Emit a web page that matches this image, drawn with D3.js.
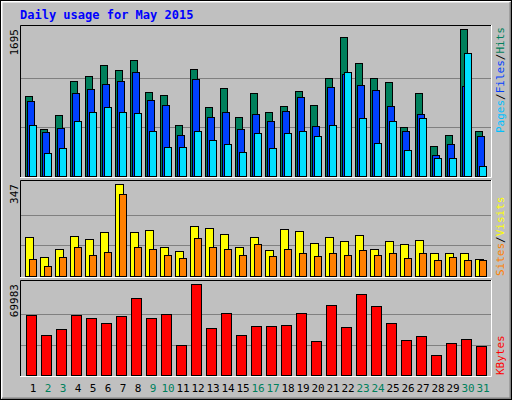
<!DOCTYPE html>
<html><head><meta charset="utf-8">
<script src="https://cdn.jsdelivr.net/npm/d3@7"></script>
<style>body{margin:0;background:#fff}text{font-family:"DejaVu Sans Mono",monospace}</style>
</head><body><svg id="c" width="512" height="400"></svg>
<script>
const days = d3.range(1, 32)
const weekend = [2, 3, 9, 10, 16, 17, 23, 24, 30, 31]
const hits = [921,539,701,1094,1152,1279,1221,1337,967,932,586,1233,794,1013,678,955,736,805,978,817,1129,1602,1302,1129,1082,562,955,343,470,1695,516]
const files = [863,505,551,955,1002,1059,1094,1198,874,817,470,1117,678,736,539,713,632,747,909,574,1025,1175,1048,990,805,516,713,239,366,1036,458]
const pages = [586,262,320,632,736,794,736,724,516,331,331,516,412,366,273,493,320,493,516,458,586,1198,666,377,632,297,666,204,204,1418,112]
const visits = [147,72,102,151,140,166,347,166,173,109,94,189,181,158,109,147,98,177,170,124,147,132,155,102,132,121,136,87,87,87,64]
const sites = [64,38,72,109,79,91,309,109,102,79,68,143,109,102,79,121,75,102,87,75,87,79,98,79,87,68,87,60,72,60,60]
const kbytes = [46134,30756,35369,46134,43827,39983,45365,59205,43827,46903,23067,69983,36138,47672,30756,37676,37676,38445,47672,26143,53823,36907,62281,53054,39983,26912,29987,15378,24605,27680,22298]

const svg = d3.select('#c')
svg.append('rect').attr('width', 512).attr('height', 400).attr('fill', '#c0c0c0')
// bevelled outer frame
svg.append('path').attr('d', 'M1.5,398.5V1.5H510.5').attr('stroke', '#fff').attr('stroke-width', 2).attr('fill', 'none')
svg.append('path').attr('d', 'M2,398.5H510.5V2').attr('stroke', '#808080').attr('stroke-width', 2).attr('fill', 'none')
svg.append('rect').attr('x', 0.5).attr('y', 0.5).attr('width', 511).attr('height', 399).attr('fill', 'none').attr('stroke', '#000')

svg.append('text').attr('x', 20).attr('y', 19).attr('fill', '#0000ff').attr('font-weight', 'bold')
  .attr('font-size', 12).text('Daily usage for May 2015')

const x = d3.scaleBand().domain(days).range([20, 485]).paddingInner(0)
const X0 = 20, X1 = 491

function panel(top, bottom, max, maxLabel, series, labels, atTop) {
  const y = d3.scaleLinear().domain([0, max]).range([bottom, top + 4])
  const g = svg.append('g')
  g.append('path').attr('d', `M${X0 + 0.5},${bottom + 1}V${top + 0.5}H${X1}`).attr('stroke', '#000').attr('fill', 'none')
  g.append('path').attr('d', `M${X0},${bottom + 1.5}H${X1 + 0.5}V${top}`).attr('stroke', '#fff').attr('fill', 'none')
  ;[1, 2].forEach(k => {
    g.append('line').attr('x1', X0 + 1).attr('x2', X1).attr('y1', Math.round(y(max * k / 3)) + 0.5)
      .attr('y2', Math.round(y(max * k / 3)) + 0.5).attr('stroke', '#808080')
  })
  series.forEach(s => {
    g.selectAll(null).data(s.vals).join('rect')
      .attr('x', (d, i) => Math.round(x(days[i]) + s.off) + 0.5)
      .attr('width', s.w)
      .attr('y', d => Math.round(y(d)) + 0.5)
      .attr('height', d => bottom - Math.round(y(d)))
      .attr('fill', s.color).attr('stroke', '#000')
  })
  g.append('text').attr('transform', `translate(18,${top + 4}) rotate(-90)`).attr('text-anchor', 'end')
    .attr('font-size', 11).attr('fill', '#000').text(maxLabel)
  // right-side legend, reading bottom to top
  const lg = g.append('text')
    .attr('transform', `translate(504,${atTop ? top + 2 : bottom}) rotate(-90)`)
    .attr('text-anchor', atTop ? 'end' : 'start').attr('font-size', 11)
  labels.forEach((l, i) => {
    if (i) lg.append('tspan').attr('fill', '#000').text('/')
    lg.append('tspan').attr('fill', l.c).text(l.t)
  })
  return y
}

panel(25, 176, 1695, '1695', [
  { vals: hits, off: 5, w: 7, color: '#00805c' },
  { vals: files, off: 7, w: 7, color: '#0040ff' },
  { vals: pages, off: 9, w: 7, color: '#00e0ff' }
], [{ t: 'Pages', c: '#00c0ff' }, { t: 'Files', c: '#0040ff' }, { t: 'Hits', c: '#00805c' }], true)

panel(180, 276, 347, '347', [
  { vals: visits, off: 5, w: 8, color: '#ffff00' },
  { vals: sites, off: 9, w: 7, color: '#ff8000' }
], [{ t: 'Sites', c: '#ff8000' }, { t: 'Visits', c: '#ffff00' }], false)

panel(280, 375, 69983, '69983', [
  { vals: kbytes, off: 6, w: 10, color: '#ff0000' }
], [{ t: 'KBytes', c: '#ff0000' }], false)

svg.selectAll('.day').data(days).join('text')
  .attr('x', d => x(d) + 13).attr('y', 392).attr('text-anchor', 'middle').attr('font-size', 11)
  .attr('fill', d => weekend.includes(d) ? '#00805c' : '#000').text(d => d)
</script></body></html>
